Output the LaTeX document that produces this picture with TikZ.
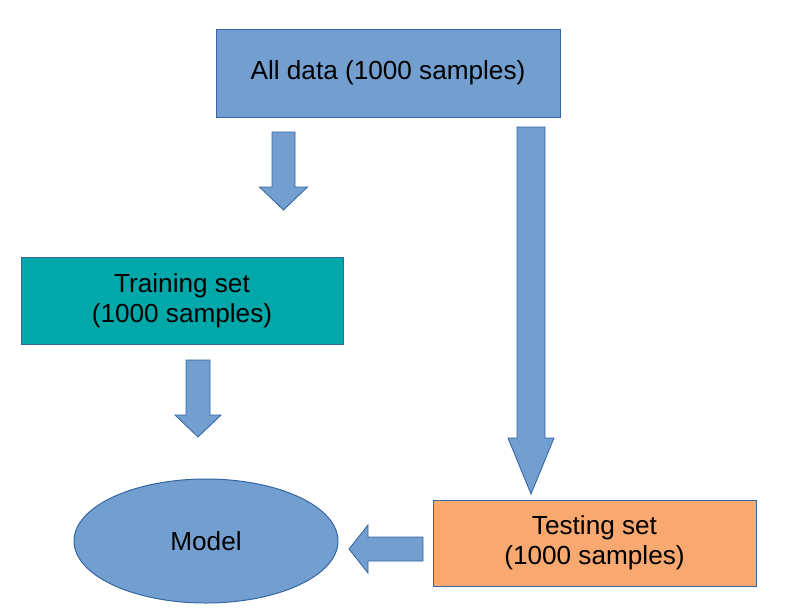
\documentclass[tikz,border=0pt]{standalone}
\usepackage{fontspec}
\setmainfont{Liberation Sans}
\usetikzlibrary{positioning, shapes.geometric}
\definecolor{boxblue}{RGB}{114,159,207}
\definecolor{edgeblue}{RGB}{52,101,164}
\definecolor{trainteal}{RGB}{0,168,170}
\definecolor{peach}{RGB}{249,168,112}
\def\px{0.025cm}
\tikzset{
  box/.style={draw=edgeblue, line width=0.7pt, align=center, inner sep=0pt,
    font=\fontsize{18.6}{21.5}\selectfont},
  blockarrow/.style={fill=boxblue, draw=edgeblue, line width=0.6pt, line join=miter}
}

\begin{document}
\begin{tikzpicture}[x=\px, y=-\px]
  \useasboundingbox (0,0) rectangle (788,614);
  \node[box, fill=boxblue, minimum width=344*\px, minimum height=88*\px] (alldata) at (388,73) {All data (1000 samples)};
  \node[box, fill=trainteal, minimum width=322*\px, minimum height=87*\px] (train) at (182,300.5) {Training set\\(1000 samples)};
  \node[box, fill=peach, minimum width=323*\px, minimum height=86*\px] (test) at (594.5,543) {Testing set\\(1000 samples)};
  \node[box, fill=boxblue, ellipse, minimum width=264*\px, minimum height=124*\px] (model) at (206,541) {Model};
  % down arrows
  \foreach \cx/\ytop/\yhead/\ytip/\hs/\hh in {283.5/132/187/210/11.5/24,
                                            531/127/438/494/14/23,
                                            198/360/415/437/12/23}{
    \draw[blockarrow] (\cx-\hs,\ytop) -- (\cx+\hs,\ytop) -- (\cx+\hs,\yhead) -- (\cx+\hh,\yhead)
      -- (\cx,\ytip) -- (\cx-\hh,\yhead) -- (\cx-\hs,\yhead) -- cycle;
  }
  % left arrow
  \draw[blockarrow] (423,537) -- (423,561) -- (368,561) -- (368,573) -- (349,549)
    -- (368,525) -- (368,537) -- cycle;
\end{tikzpicture}
\end{document}
